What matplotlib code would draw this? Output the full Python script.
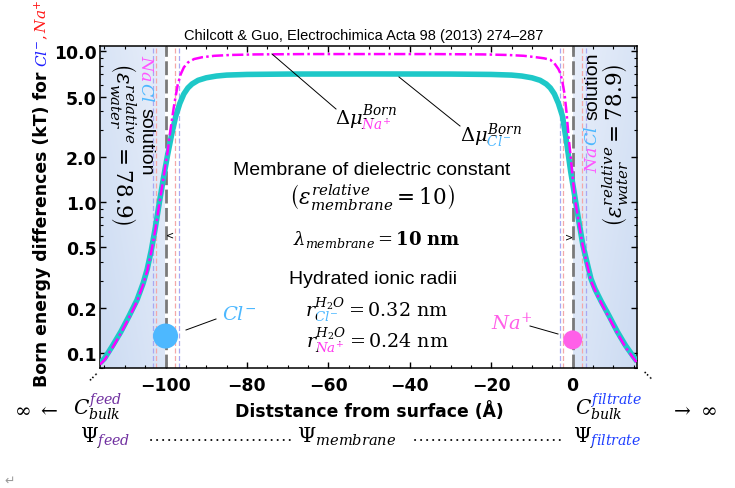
import numpy as np
import matplotlib
matplotlib.use("Agg")
import matplotlib.pyplot as plt
from matplotlib.transforms import IdentityTransform, Bbox
from matplotlib.lines import Line2D
from matplotlib.ticker import LogLocator, NullFormatter, MultipleLocator

plt.rcParams['mathtext.fontset'] = 'dejavuserif'
plt.rcParams['font.family'] = ['DejaVu Sans']

# ---------------- data ----------------
x_cl = [-116.1, -115.0, -113.0, -111.0, -109.0, -107.0, -105.5, -104.5, -103.5, -102.5,
        -101.5, -100.5, -99.5, -98.5, -97.5, -96.5, -95.5, -94.5, -93.5, -92.0,
        -90.0, -87.5, -85.0, -80.0, -70.0, -50.0, -30.0, -20.0, -15.0, -12.5,
        -10.0, -8.0, -6.5, -5.5, -4.5, -3.5, -2.5, -1.5, -0.5, 0.5,
        1.5, 2.5, 3.5, 4.5, 5.5, 7.0, 9.0, 11.0, 13.0, 15.0, 15.8]
y_cl = [0.086, 0.092, 0.112, 0.138, 0.175, 0.225, 0.29, 0.36, 0.48, 0.68,
        1.0, 1.45, 2.05, 2.8, 3.7, 4.5, 5.2, 5.7, 6.05, 6.4,
        6.65, 6.83, 6.93, 7.0, 7.04, 7.05, 7.04, 7.0, 6.93, 6.83,
        6.65, 6.4, 6.05, 5.7, 5.2, 4.5, 3.7, 2.5, 1.6, 1.1,
        0.75, 0.52, 0.40, 0.31, 0.265, 0.22, 0.175, 0.138, 0.112, 0.094, 0.088]

x_na = [-116.1, -115.0, -113.0, -111.0, -109.0, -107.0, -105.5, -104.5, -103.5, -102.5,
        -101.5, -100.5, -99.5, -98.8, -98.0, -97.5, -97.0, -96.3, -95.5, -94.5,
        -93.0, -91.0, -88.0, -84.0, -78.0, -65.0, -50.0, -35.0, -22.0, -16.0,
        -12.0, -9.0, -7.0, -5.5, -4.5, -3.5, -3.0, -2.5, -2.0, -1.5,
        -1.0, -0.5, 0.5, 1.5, 2.5, 3.5, 4.5, 5.5, 7.0, 9.0,
        11.0, 13.0, 15.0, 15.8]
y_na = [0.084, 0.090, 0.109, 0.135, 0.171, 0.22, 0.285, 0.35, 0.47, 0.66,
        0.98, 1.45, 2.15, 3.0, 4.2, 5.05, 6.0, 7.0, 7.8, 8.4,
        8.85, 9.1, 9.3, 9.42, 9.5, 9.55, 9.55, 9.55, 9.5, 9.42,
        9.3, 9.1, 8.95, 8.75, 8.3, 7.6, 7.1, 6.2, 5.2, 3.9,
        2.7, 2.0, 1.07, 0.73, 0.51, 0.39, 0.30, 0.26, 0.215, 0.17,
        0.135, 0.109, 0.092, 0.086]

x_ticks = [-100, -80, -60, -40, -20, 0]
x_ticklabels = ['\u2212100', '\u221280', '\u221260', '\u221240', '\u221220', '0']
y_ticks = [0.1, 0.2, 0.5, 1.0, 2.0, 5.0, 10.0]
y_ticklabels = ['0.1', '0.2', '0.5', '1.0', '2.0', '5.0', '10.0']
surfaces = [-100, 0]     # membrane faces (Å)
r_cl = 3.2               # hydrated radius of Cl- (Å)
r_na = 2.4               # hydrated radius of Na+ (Å)
ion_x = [-100, 0]
ion_y = [0.1296, 0.1222]
x_range = (-116.1, 15.8)
y_range = (0.0796, 10.8)

# ---------------- colours ----------------
CYAN = '#1ec8c8'
MAG = '#ff00ff'
CL_C = '#4db8ff'
NA_C = '#ff3cf0'
FEED_C = '#7030a0'
FILT_C = '#1f3fff'

W, H, DPI = 735, 489, 100
fig = plt.figure(figsize=(W / DPI, H / DPI), dpi=DPI)
ax = fig.add_axes([100 / W, 1 - 369 / H, 537 / W, 322 / H])
ax.set_yscale('log')
ax.set_xlim(*x_range)
ax.set_ylim(*y_range)
ax.set_autoscale_on(False)

# shaded solution regions (gradient)
dark = np.array([0.80, 0.86, 0.95])
light = np.array([0.91, 0.935, 0.98])
n = 64
u, v = np.meshgrid(np.linspace(0, 1, n), np.linspace(0, 1, n))
for (a, b, outer_left) in [(x_range[0], surfaces[0], True), (surfaces[1], x_range[1], False)]:
    uu = u if outer_left else 1 - u
    t = 0.55 * uu + 0.45 * v
    img = dark[None, None, :] + t[..., None] * (light - dark)[None, None, :]
    ax.imshow(img, extent=[a, b, 0, 1], origin='lower', aspect='auto',
              transform=ax.get_xaxis_transform(), zorder=0, interpolation='bilinear')
ax.set_xlim(*x_range)
ax.set_ylim(*y_range)

# ionic radius guide lines
for s in surfaces:
    for d in (-r_cl, r_cl):
        ax.axvline(s + d, color='#a8a8f2', lw=0.9, dashes=(4, 2), zorder=1)
    for d in (-r_na, r_na):
        ax.axvline(s + d, color='#f4a8a8', lw=0.9, dashes=(4, 2), zorder=1)
    ax.axvline(s, color='#7a7a7a', lw=2.0, dashes=(5, 1.6), zorder=2)

ax.plot(x_cl, y_cl, color=CYAN, lw=4.0, zorder=3, solid_capstyle='butt')
ax.plot(x_na, y_na, color=MAG, lw=1.8, dashes=(4.5, 1.3, 1.0, 1.3), zorder=4)

ax.scatter(ion_x, ion_y, s=[324, 187], c=[CL_C, '#ff5fe8'], linewidths=0, zorder=6, clip_on=False)

# axes styling
for sp in ax.spines.values():
    sp.set_linewidth(1.1)
ax.set_xticks(x_ticks, labels=x_ticklabels)
ax.set_yticks(y_ticks, labels=y_ticklabels)
ax.xaxis.set_minor_locator(MultipleLocator(5))
ax.yaxis.set_minor_locator(LogLocator(base=10, subs=np.arange(2, 10)))
ax.yaxis.set_minor_formatter(NullFormatter())
ax.tick_params(which='both', direction='in', top=True, right=True)
ax.tick_params(which='major', length=4.5, width=1, labelsize=12.4)
ax.tick_params(which='minor', length=2.3, width=0.8)
ax.tick_params(axis='x', pad=5.5)
ax.tick_params(axis='y', pad=2.5)
for lab in ax.get_xticklabels() + ax.get_yticklabels():
    lab.set_fontweight('bold')

# ---------------- text helpers (pixel positions, top-left origin) ----------------
IT = IdentityTransform()
R = fig.canvas.get_renderer()


def D(x, y):
    return x, H - y


def width(s, **kw):
    t = fig.text(0, 0, s, transform=IT, **kw)
    w = t.get_window_extent(R).width
    t.remove()
    return w


def put(x, y, s, **kw):
    X, Y = D(x, y)
    return fig.text(X, Y, s, transform=IT, **kw)


def seq(x, y, pieces, rotation=0):
    X, Y = D(x, y)
    for s, kw, gap in pieces:
        w = width(s, **kw)
        fig.text(X, Y, s, transform=IT, rotation=rotation, rotation_mode='anchor',
                 ha='left', va='baseline', **kw)
        step = w + gap
        if rotation == 0:
            X += step
        elif rotation == 90:
            Y += step
        else:
            Y -= step


def script(x, y, base, sup, sub, rest, fs, sup_c='k', sub_c='k', split=0.28, ha='left'):
    """Math text base^{sup}_{sub}rest with the scripts coloured separately (by clipping)."""
    kw = dict(fontsize=fs)
    ss = base
    if sup:
        ss += '^{%s}' % sup
    if sub:
        ss += '_{%s}' % sub
    full = '$' + ss + rest + '$'
    w_full = width(full, **kw)
    w_base = width('$' + base + '$', **kw)
    w_bs = width('$' + ss + '$', **kw)
    X, Y = D(x, y)
    if ha == 'center':
        X -= w_full / 2
    xs0, xs1 = X + w_base, X + w_bs
    yk = Y + split * fs * DPI / 72
    regions = [((0, 0, xs0, H), 'k'), ((xs1, 0, W, H), 'k')]
    if sup and sub:
        regions += [((xs0, yk, xs1, H), sup_c), ((xs0, 0, xs1, yk), sub_c)]
    elif sup:
        regions += [((xs0, 0, xs1, H), sup_c)]
    else:
        regions += [((xs0, 0, xs1, H), sub_c)]
    for ext, c in regions:
        t = fig.text(X, Y, full, transform=IT, ha='left', va='baseline', color=c, **kw)
        t.set_clip_box(Bbox.from_extents(*ext))
        t.set_clip_on(True)
    return X + w_full


def line(p0, p1, **kw):
    (x0, y0), (x1, y1) = D(*p0), D(*p1)
    fig.add_artist(Line2D([x0, x1], [y0, y1], transform=IT, **kw))


SANS = 'Liberation Sans'
MFS = 14.5   # math text size

# title
put(364, 40, "Chilcott & Guo, Electrochimica Acta 98 (2013) 274\u2013287", ha='center',
    va='baseline', fontsize=10.5, family=SANS)

# central block
put(372, 175, "Membrane of dielectric constant", ha='center', va='baseline', fontsize=14, family=SANS)
put(372, 205, r"$\left(\varepsilon^{relative}_{membrane} = 10\right)$", ha='center', va='baseline', fontsize=15.5)
put(377, 245, r"$\lambda_{membrane} = \mathbf{10\ nm}$", ha='center', va='baseline', fontsize=13)
put(373, 284, "Hydrated ionic radii", ha='center', va='baseline', fontsize=14, family=SANS)
script(377, 317, 'r', 'H_2O', 'Cl^{-}', r'=0.32\ \mathrm{nm}', 13.8, sub_c=CL_C, ha='center')
script(377, 348, 'r', 'H_2O', 'Na^{+}', r'=0.24\ \mathrm{nm}', 13.8, sub_c=NA_C, ha='center')

# curve labels
script(335, 125, r'\Delta\mu', 'Born', 'Na^{+}', '', 14, sub_c=NA_C)
script(460, 142, r'\Delta\mu', 'Born', 'Cl^{-}', '', 14, sub_c=CL_C)
line((272, 55), (336, 110), color='k', lw=0.7)
line((399, 78), (460, 127), color='k', lw=0.7)

# ion labels
put(222, 320, r'$Cl^{-}$', color=CL_C, fontsize=14, va='baseline')
put(491, 330, r'$Na^{+}$', color='#ff5fe8', fontsize=14, va='baseline')
line((186, 331), (216, 320), color='k', lw=0.7)
line((530, 327), (558, 335), color='k', lw=0.7)

# arrow heads at membrane edges
put(170, 236, '<', fontsize=7, ha='center', va='center')
put(569, 238, '>', fontsize=7, ha='center', va='center')

# vertical texts in the solution regions
eps = r"$\left(\varepsilon^{relative}_{water} = 78.9\right)$"
put(115, 144, eps, rotation=-90, rotation_mode='anchor', ha='center', va='baseline', fontsize=15.5)
put(623, 145, eps, rotation=90, rotation_mode='anchor', ha='center', va='baseline', fontsize=15.5)
nacl = [(r'$Na$', dict(fontsize=12.5, color='#ff55ff'), 0),
        (r'$Cl$', dict(fontsize=12.5, color=CL_C), 6),
        ('solution', dict(fontsize=14, family=SANS), 0)]
seq(141, 55, nacl, rotation=-90)
seq(597, 173, nacl, rotation=90)

# y label
seq(47, 387, [("Born energy differences (kT) for", dict(fontsize=12.4, weight='bold'), 4),
              (r'$Cl^{-}$', dict(fontsize=11, color='#1f1fff'), 0),
              (r'$,Na^{+}$', dict(fontsize=11, color='#ff1a1a'), 0)], rotation=90)

# x label
put(369, 417, "Diststance from surface (\u00c5)", ha='center', va='baseline', fontsize=12.4, weight='bold')

# bottom annotations
put(14, 415, r'$\infty\ \leftarrow$', fontsize=MFS, va='baseline')
script(73, 415, 'C', 'feed', 'bulk', '', MFS, sup_c=FEED_C)
script(80, 443, r'\Psi', None, 'feed', '', MFS, sub_c=FEED_C)
put(297, 443, r'$\Psi_{membrane}$', fontsize=15, va='baseline')
script(575, 415, 'C', 'filtrate', 'bulk', '', MFS, sup_c=FILT_C)
put(670, 415, r'$\rightarrow\ \infty$', fontsize=MFS, va='baseline')
script(573, 443, r'\Psi', None, 'filtrate', '', MFS, sub_c=FILT_C)
for (a, b) in [(151, 292), (415, 561)]:
    line((a, 441), (b, 441), color='k', lw=1.4, dashes=(0.1, 3.0), dash_capstyle='round')

# corner dots
put(91, 374, '...', rotation=45, ha='center', va='center', fontsize=10)
put(649, 374, '...', rotation=-45, ha='center', va='center', fontsize=10)
put(10, 481, '\u21b5', ha='center', va='center', fontsize=9, color='#9a9a9a')

fig.savefig('out.png', dpi=DPI)
